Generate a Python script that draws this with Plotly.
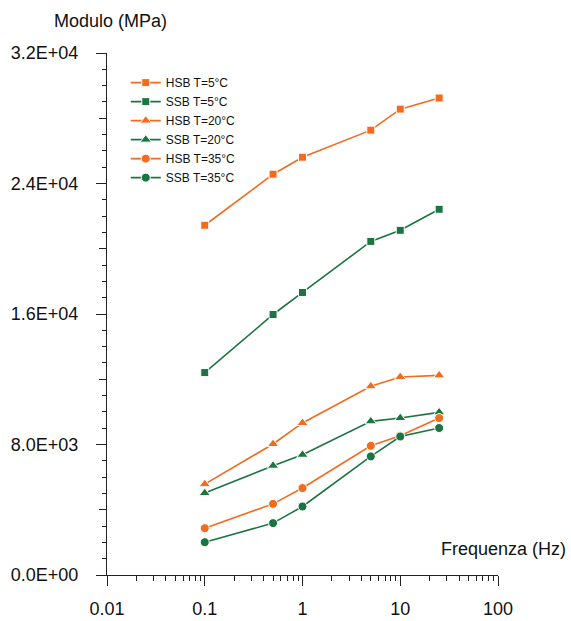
import plotly.graph_objects as go

freq = [0.1, 0.5, 1, 5, 10, 25]
hsb_5 = [21440, 24570, 25610, 27270, 28560, 29240]
ssb_5 = [12410, 15970, 17320, 20450, 21130, 22420]
hsb_20 = [5570, 8030, 9320, 11570, 12140, 12240]
ssb_20 = [5020, 6700, 7370, 9420, 9620, 9970]
hsb_35 = [2870, 4360, 5330, 7920, 8540, 9620]
ssb_35 = [2010, 3180, 4200, 7270, 8490, 9010]

series_names = ["HSB T=5°C", "SSB T=5°C", "HSB T=20°C", "SSB T=20°C", "HSB T=35°C", "SSB T=35°C"]
series_vals = [hsb_5, ssb_5, hsb_20, ssb_20, hsb_35, ssb_35]

y_tickvals = [0, 8000, 16000, 24000, 32000]
y_ticktext = ["0.0E+00", "8.0E+03", "1.6E+04", "2.4E+04", "3.2E+04"]
x_tickvals = [0.01, 0.1, 1, 10, 100]
x_ticktext = ["0.01", "0.1", "1", "10", "100"]

ORANGE = "#F26B1F"
GREEN = "#1B7441"
colors = [ORANGE, GREEN, ORANGE, GREEN, ORANGE, GREEN]
symbols = ["square", "square", "triangle-up", "triangle-up", "circle", "circle"]
sizes = [8, 8, 10, 10, 9, 9]

fig = go.Figure()
for name, vals, c, s, sz in zip(series_names, series_vals, colors, symbols, sizes):
    fig.add_trace(go.Scatter(
        x=freq, y=vals, name=name, mode="lines+markers",
        line=dict(color=c, width=1.6),
        marker=dict(symbol=s, size=sz, color=c, line=dict(color="white", width=1)),
    ))

# invisible trace on second y axis to show medium ticks
fig.add_trace(go.Scatter(x=[None], y=[None], yaxis="y2", showlegend=False, hoverinfo="skip"))

font = "Liberation Sans, Arial, sans-serif"
fig.update_layout(
    width=571, height=621,
    margin=dict(l=107, r=73, t=53, b=46),
    paper_bgcolor="white", plot_bgcolor="white",
    font=dict(family=font, size=18, color="#111"),
    showlegend=True,
    legend=dict(
        x=0.048, y=0.971, xanchor="left", yanchor="top",
        font=dict(size=12, color="#111"), bgcolor="rgba(0,0,0,0)",
        itemwidth=30, tracegroupgap=0,
    ),
    xaxis=dict(
        type="log", range=[-2, 2], tickvals=x_tickvals, ticktext=x_ticktext,
        showgrid=False, zeroline=False, showline=True, linecolor="#222", linewidth=1.3,
        ticks="outside", ticklen=10, tickcolor="#222", tickwidth=1.3,
        ticklabelstandoff=7, automargin=False,
        minor=dict(ticks="outside", ticklen=5, tickcolor="#222", tickwidth=1.2, dtick="D1", showgrid=False),
    ),
    yaxis=dict(
        range=[0, 32000], tickvals=y_tickvals, ticktext=y_ticktext,
        showgrid=False, zeroline=False, showline=True, linecolor="#222", linewidth=1.3,
        ticks="outside", ticklen=10, tickcolor="#222", tickwidth=1.3,
        ticklabelstandoff=14, automargin=False,
        minor=dict(ticks="outside", ticklen=4, tickcolor="#222", tickwidth=1.2, dtick=1000, showgrid=False),
    ),
    yaxis2=dict(
        range=[0, 32000], overlaying="y", side="left", dtick=4000,
        showticklabels=False, showgrid=False, zeroline=False, showline=False,
        ticks="outside", ticklen=7, tickcolor="#222", tickwidth=1.2,
    ),
    annotations=[
        dict(text="Modulo (MPa)", xref="paper", yref="paper", x=0.0, y=1.0,
             xanchor="center", yanchor="bottom", xshift=3, yshift=20, showarrow=False,
             font=dict(size=18, family=font, color="#111")),
        dict(text="Frequenza (Hz)", xref="paper", yref="paper", x=1.0, y=0.0,
             xanchor="center", yanchor="bottom", xshift=5, yshift=14, showarrow=False,
             font=dict(size=18, family=font, color="#111")),
    ],
)

fig.write_html("out.html")
